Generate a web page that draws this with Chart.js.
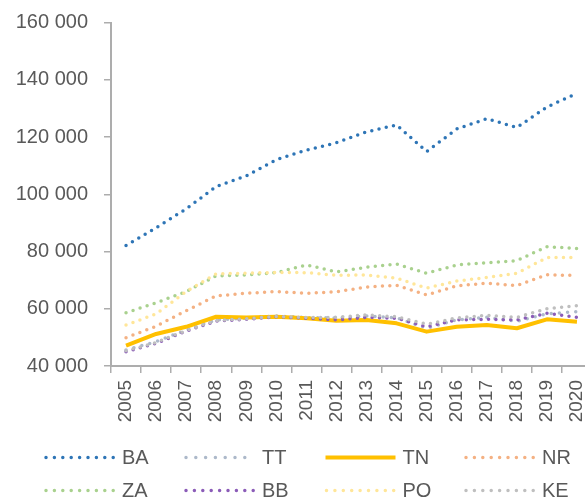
<!DOCTYPE html>
<html>
<head>
<meta charset="utf-8">
<script src="https://cdn.jsdelivr.net/npm/chart.js@4.4.1/dist/chart.umd.min.js"></script>
<style>
  html, body { margin: 0; padding: 0; background: #fff; }
  #wrap { width: 585px; height: 499px; }
</style>
</head>
<body>
<div id="wrap"><canvas id="kraje"></canvas></div>
<script>
// roky na osi x
const years = ['2005', '2006', '2007', '2008', '2009', '2010', '2011', '2012',
               '2013', '2014', '2015', '2016', '2017', '2018', '2019', '2020'];

// hodnoty za kraje
const BA = [82100, 88300, 94900, 102700, 106400, 112100, 115400, 118000, 121800, 124200, 114900, 122800, 126400, 123300, 130500, 135200];
const TT = [45600, 48500, 52600, 56100, 56700, 57500, 56900, 56800, 57500, 56800, 53200, 56100, 57000, 55600, 58200, 59000];
const TN = [47100, 51200, 53700, 57200, 56900, 57200, 56700, 55800, 56100, 54900, 52000, 53700, 54300, 53200, 56300, 55500];
const NR = [49900, 53900, 59300, 64500, 65400, 66000, 65400, 65900, 67600, 68200, 64800, 68000, 68900, 68100, 71900, 71600];
const ZA = [58600, 62100, 66000, 71500, 71800, 72600, 75300, 72900, 74500, 75600, 72400, 75300, 76100, 76800, 81700, 81000];
const BB = [45000, 47900, 52200, 55700, 56300, 57200, 56700, 56100, 57000, 56700, 53700, 56100, 56300, 56100, 58400, 57000];
const PO = [54300, 58200, 66000, 72200, 72400, 72700, 72600, 71700, 71800, 70700, 67200, 69700, 70900, 72400, 77900, 77900];
const KE = [45300, 48200, 52400, 55900, 56500, 57300, 56900, 57000, 57900, 57200, 54600, 56800, 57700, 57000, 60000, 61100];

const seriesNames = ['BA', 'TT', 'TN', 'NR', 'ZA', 'BB', 'PO', 'KE'];
const seriesValues = [BA, TT, TN, NR, ZA, BB, PO, KE];

// popisky osi y
const yTicks = [40000, 60000, 80000, 100000, 120000, 140000, 160000];

// vzhlad ciar: farba, hrubka, medzera bodiek (0 = plna ciara), medzera v legende
const looks = {
    BA: { color: '#2E75B6', width: 3.5, gap: 7.4, legendGap: 8.4 },
    TT: { color: '#ADB9CA', width: 3.5, gap: 8.2, legendGap: 9.8 },
    TN: { color: '#FFC000', width: 4,   gap: 0,   legendGap: 0 },
    NR: { color: '#F4B183', width: 3.5, gap: 7.4, legendGap: 8.4 },
    ZA: { color: '#A9D18E', width: 3.5, gap: 7.4, legendGap: 8.4 },
    BB: { color: '#8B5CB8', width: 3.5, gap: 7.4, legendGap: 8.4 },
    PO: { color: '#FFE699', width: 3.5, gap: 7.4, legendGap: 8.4 },
    KE: { color: '#BFBFBF', width: 3.5, gap: 7.4, legendGap: 8.4 }
};

const textColor = '#595959';
const axisColor = '#ADADAD';
const fontFamily = '"Liberation Sans", Arial, sans-serif';

function formatThousands(v) {
    return String(v).replace(/\B(?=(\d{3})+(?!\d))/g, ' ');
}

// legenda 4 x 2 ako v Exceli
const gridLegend = {
    id: 'gridLegend',
    afterDraw(chart) {
        const ctx = chart.ctx;
        const colX = [45, 185, 325.5, 465];
        const rowY = [457.5, 490.5];
        chart.data.datasets.forEach((ds, i) => {
            const look = looks[ds.label];
            const x0 = colX[i % 4];
            const y = rowY[Math.floor(i / 4)];
            ctx.save();
            ctx.strokeStyle = look.color;
            ctx.lineWidth = look.width;
            if (look.legendGap > 0) {
                ctx.setLineDash([0, look.legendGap]);
                ctx.lineCap = 'round';
                ctx.beginPath();
                ctx.moveTo(x0 + 1, y);
                ctx.lineTo(x0 + 69, y);
            } else {
                ctx.lineCap = 'butt';
                ctx.beginPath();
                ctx.moveTo(x0, y);
                ctx.lineTo(x0 + 70, y);
            }
            ctx.stroke();
            ctx.restore();

            ctx.save();
            ctx.fillStyle = textColor;
            ctx.font = '20px ' + fontFamily;
            ctx.textBaseline = 'middle';
            ctx.textAlign = 'left';
            ctx.fillText(ds.label, x0 + 77, y + 1);
            ctx.restore();
        });
    }
};

// plocha grafu ako v originale (hore 22.5, vpravo presahuje za okraj)
const fixArea = {
    id: 'fixArea',
    afterLayout(chart) {
        const a = chart.chartArea;
        const x = chart.scales.x;
        const y = chart.scales.y;
        a.top = 22.5;
        a.right = 592;
        a.width = a.right - a.left;
        a.height = a.bottom - a.top;
        x.right = a.right;
        x.width = x.right - x.left;
        x.configure();
        y.top = a.top;
        y.height = y.bottom - y.top;
        y.configure();
    }
};

const datasets = seriesNames.map((name, i) => {
    const look = looks[name];
    return {
        label: name,
        data: seriesValues[i],
        borderColor: look.color,
        backgroundColor: look.color,
        borderWidth: look.width,
        borderDash: look.gap > 0 ? [0, look.gap] : [],
        borderCapStyle: look.gap > 0 ? 'round' : 'butt',
        borderJoinStyle: 'round',
        pointRadius: 0,
        pointHoverRadius: 0,
        tension: 0,
        fill: false,
        order: seriesNames.length - i
    };
});

new Chart(document.getElementById('kraje'), {
    type: 'line',
    data: { labels: years, datasets: datasets },
    plugins: [fixArea, gridLegend],
    options: {
        responsive: true,
        maintainAspectRatio: false,
        animation: false,
        layout: { padding: { top: 22, left: 0, right: 0, bottom: 76 } },
        plugins: {
            legend: { display: false },
            tooltip: { enabled: false }
        },
        scales: {
            x: {
                offset: true,
                grid: {
                    offset: true,
                    drawOnChartArea: false,
                    drawTicks: true,
                    tickLength: 7,
                    color: axisColor,
                    lineWidth: 1.5
                },
                border: { display: true, color: axisColor, width: 2 },
                ticks: {
                    autoSkip: false,
                    maxRotation: 90,
                    minRotation: 90,
                    padding: 7,
                    color: textColor,
                    font: { size: 19, family: fontFamily }
                },
                afterFit: s => { s.height = 57; }
            },
            y: {
                min: yTicks[0],
                max: yTicks[yTicks.length - 1],
                afterBuildTicks: s => { s.ticks = yTicks.map(v => ({ value: v })); },
                grid: {
                    drawOnChartArea: false,
                    drawTicks: true,
                    tickLength: 7,
                    color: axisColor,
                    lineWidth: 1.5
                },
                border: { display: true, color: axisColor, width: 2 },
                ticks: {
                    padding: 16,
                    color: textColor,
                    font: { size: 20, family: fontFamily },
                    callback: v => formatThousands(v)
                },
                afterFit: s => { s.width = 111; }
            }
        }
    }
});
</script>
</body>
</html>
